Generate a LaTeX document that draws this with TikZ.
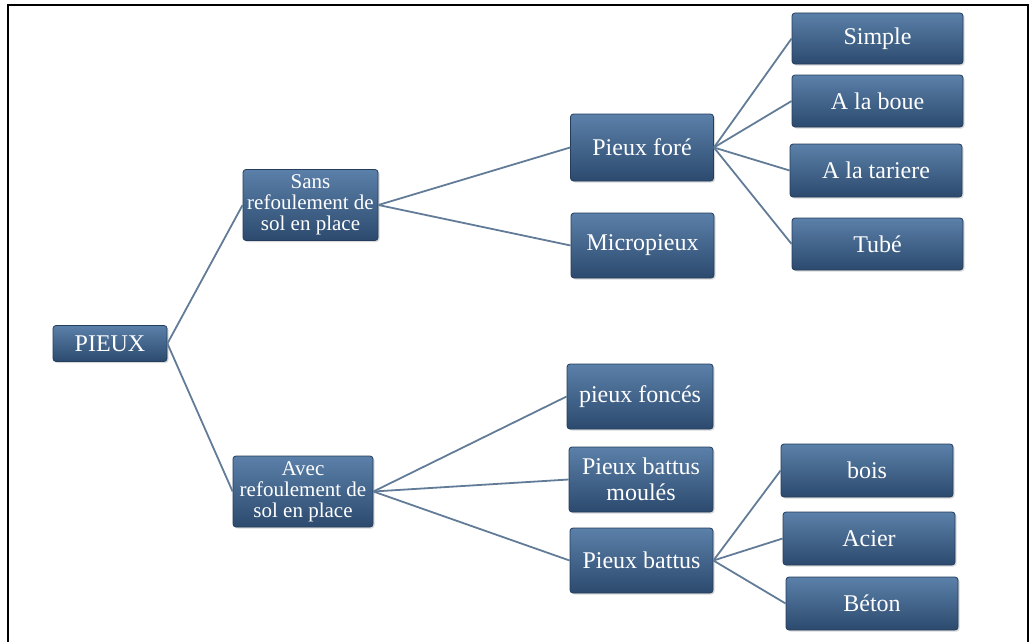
\documentclass[tikz,border=0pt]{standalone}
\usepackage{fontspec}
\setmainfont{Liberation Serif}
\usetikzlibrary{shadows}
\definecolor{boxtop}{HTML}{5B80A9}
\definecolor{boxmid}{HTML}{3F6590}
\definecolor{boxbot}{HTML}{2C4A6E}
\definecolor{boxedge}{HTML}{243D5C}
\definecolor{linkcol}{HTML}{627C98}
\begin{document}
\begin{tikzpicture}[
        x=1pt, y=-1pt,
        pile/.style={rectangle, rounded corners=3pt, draw=boxedge, line width=0.8pt,
            top color=boxtop, middle color=boxmid, bottom color=boxbot,
            drop shadow={shadow xshift=1.5pt, shadow yshift=-1.5pt, opacity=0.3},
            text=white, inner sep=0pt, align=center,
            font=\fontsize{24}{26}\selectfont},
        pile_small/.style={pile, font=\fontsize{21}{21}\selectfont},
        link/.style={draw=linkcol, line width=1.8pt}
    ]
	\useasboundingbox (0,0) rectangle (1035,642);
	\draw[line width=1.5pt] (8,642) -- (8,5) -- (1028,5) -- (1028,642);
	\node[pile, minimum width=114, minimum height=36] (pieux) at (110,343.5) {PIEUX};
	\node[pile_small, minimum width=135, minimum height=71] (sans) at (310.5,205) {Sans\\refoulement de\\sol en place};
	\node[pile_small, minimum width=140, minimum height=71] (avec) at (303,491.5) {Avec\\refoulement de\\sol en place};
	\node[pile, minimum width=143, minimum height=67] (fore) at (642,147.5) {Pieux foré};
	\node[pile, minimum width=143, minimum height=65] (micro) at (642.5,245.5) {Micropieux};
	\node[pile, minimum width=171, minimum height=51] (simple) at (877.5,38.5) {Simple};
	\node[pile, minimum width=171, minimum height=52] (boue) at (877.5,101) {A la boue};
	\node[pile, minimum width=172, minimum height=53] (tariere) at (876,170.5) {A la tariere};
	\node[pile, minimum width=171, minimum height=52] (tube) at (877.5,244) {Tubé};
	\node[pile, minimum width=146, minimum height=65] (fonces) at (640,396.5) {pieux foncés};
	\node[pile, minimum width=144, minimum height=65] (moules) at (641,479.5) {Pieux battus\\moulés};
	\node[pile, minimum width=143, minimum height=65] (battus) at (641.5,560.5) {Pieux battus};
	\node[pile, minimum width=172, minimum height=53] (bois) at (867,470.5) {bois};
	\node[pile, minimum width=172, minimum height=53] (acier) at (869,538.5) {Acier};
	\node[pile, minimum width=172, minimum height=53] (beton) at (872,603.5) {Béton};
	\draw[link] (pieux.east) -- (sans.west);
	\draw[link] (pieux.east) -- (avec.west);
	\draw[link] (sans.east) -- (fore.west);
	\draw[link] (sans.east) -- (micro.west);
	\draw[link] (fore.east) -- (simple.west);
	\draw[link] (fore.east) -- (boue.west);
	\draw[link] (fore.east) -- (tariere.west);
	\draw[link] (fore.east) -- (tube.west);
	\draw[link] (avec.east) -- (fonces.west);
	\draw[link] (avec.east) -- (moules.west);
	\draw[link] (avec.east) -- (battus.west);
	\draw[link] (battus.east) -- (bois.west);
	\draw[link] (battus.east) -- (acier.west);
	\draw[link] (battus.east) -- (beton.west);
    \end{tikzpicture}
\end{document}
